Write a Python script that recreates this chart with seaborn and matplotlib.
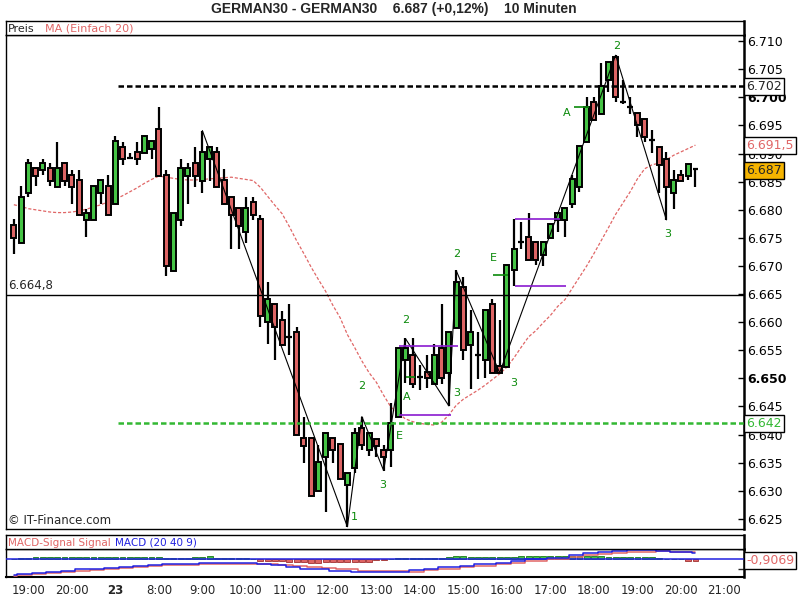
import matplotlib
matplotlib.use('Agg')
import matplotlib.pyplot as plt
import matplotlib.transforms as mtrans
import numpy as np
import seaborn as sns

sns.set_style('white')
plt.rcParams['font.family'] = ['DejaVu Sans']

# 10 minute bars, index 0 = 19:00 of the evening before
bar_idx = list(range(-2, 93))
opens = [6677.3, 6674.1, 6683.0, 6687.4, 6687.1, 6687.4, 6684.0, 6688.3, 6686.2, 6685.3,
         6678.1, 6678.1, 6683.0, 6684.2, 6681.0, 6691.2, 6689.3, 6690.3, 6690.1, 6690.9,
         6694.3, 6686.2, 6669.1, 6678.1, 6686.0, 6688.3, 6685.1, 6689.1, 6690.3, 6685.3,
         6682.3, 6680.3, 6676.1, 6681.3, 6678.3, 6660.1, 6663.2, 6660.3, 6657.3, 6658.3,
         6639.4, 6639.4, 6630.0, 6636.1, 6639.4, 6638.3, 6631.0, 6634.0, 6641.1, 6637.2,
         6639.2, 6637.3, 6637.2, 6643.1, 6653.2, 6654.2, 6650.3, 6651.2, 6649.0, 6655.4,
         6650.9, 6658.9, 6666.3, 6655.9, 6654.2, 6653.2, 6663.2, 6652.2, 6652.1, 6669.2,
         6674.3, 6675.2, 6674.3, 6671.9, 6674.9, 6678.2, 6678.1, 6681.1, 6684.1, 6692.1,
         6699.2, 6697.0, 6703.1, 6707.2, 6699.2, 6698.3, 6697.3, 6696.1, 6692.4, 6691.2,
         6689.1, 6682.9, 6686.2, 6686.0, 6687.2]
highs = [6678.3, 6684.2, 6689.1, 6687.4, 6689.1, 6688.3, 6692.1, 6688.3, 6687.1, 6687.1,
         6680.1, 6684.2, 6685.3, 6686.2, 6693.1, 6692.1, 6690.1, 6692.1, 6693.2, 6692.2,
         6698.3, 6687.1, 6679.4, 6689.1, 6688.3, 6691.1, 6694.1, 6691.3, 6691.1, 6687.2,
         6682.3, 6680.3, 6682.2, 6682.2, 6679.1, 6667.1, 6663.2, 6662.0, 6663.2, 6659.1,
         6643.1, 6639.4, 6638.2, 6640.2, 6639.4, 6638.3, 6633.2, 6641.1, 6643.2, 6640.2,
         6639.2, 6638.2, 6645.7, 6655.4, 6657.1, 6657.1, 6652.4, 6654.2, 6656.1, 6663.2,
         6658.3, 6669.2, 6668.1, 6662.2, 6658.3, 6662.2, 6664.2, 6660.4, 6670.2, 6678.3,
         6677.9, 6679.4, 6674.3, 6674.3, 6677.5, 6679.4, 6680.3, 6686.2, 6691.3, 6700.1,
         6700.1, 6706.1, 6706.3, 6707.5, 6703.1, 6700.1, 6697.3, 6696.1, 6694.2, 6691.2,
         6690.3, 6687.1, 6687.1, 6688.1, 6687.4]
lows = [6672.1, 6674.1, 6682.2, 6684.2, 6686.2, 6684.2, 6684.0, 6684.2, 6681.1, 6679.1,
        6675.1, 6678.1, 6681.1, 6679.1, 6681.0, 6688.0, 6689.1, 6688.0, 6690.1, 6689.1,
        6686.0, 6668.2, 6669.1, 6677.1, 6681.1, 6684.0, 6683.0, 6685.1, 6684.0, 6681.0,
        6673.1, 6673.1, 6674.1, 6678.1, 6659.1, 6656.1, 6653.3, 6655.9, 6654.2, 6640.0,
        6635.0, 6629.1, 6630.0, 6626.3, 6635.0, 6632.1, 6623.6, 6633.1, 6637.3, 6636.2,
        6636.1, 6633.6, 6634.2, 6643.1, 6649.1, 6648.2, 6648.0, 6648.2, 6649.0, 6649.0,
        6645.1, 6658.9, 6653.3, 6648.1, 6649.9, 6650.0, 6651.0, 6651.0, 6652.1, 6666.5,
        6673.1, 6671.1, 6670.2, 6670.0, 6674.9, 6676.1, 6675.1, 6680.3, 6683.2, 6692.1,
        6696.0, 6697.0, 6701.0, 6699.2, 6698.9, 6697.1, 6693.0, 6692.1, 6690.1, 6682.9,
        6678.2, 6680.1, 6685.2, 6685.3, 6684.1]
closes = [6675.0, 6682.3, 6688.3, 6686.0, 6688.3, 6685.1, 6687.4, 6685.1, 6684.0, 6679.1,
          6679.4, 6684.2, 6685.3, 6679.1, 6692.3, 6689.0, 6689.3, 6689.0, 6693.2, 6692.2,
          6686.0, 6670.0, 6679.4, 6687.4, 6687.4, 6686.0, 6690.3, 6691.1, 6684.0, 6681.0,
          6679.1, 6677.1, 6680.3, 6679.1, 6661.1, 6664.1, 6659.1, 6655.9, 6657.3, 6640.0,
          6638.0, 6629.1, 6635.2, 6640.2, 6637.2, 6632.1, 6633.2, 6640.2, 6638.2, 6640.2,
          6638.0, 6636.1, 6642.1, 6655.4, 6655.4, 6649.0, 6650.3, 6650.0, 6654.2, 6650.0,
          6658.3, 6667.2, 6655.1, 6658.3, 6654.2, 6662.2, 6651.0, 6651.0, 6670.2, 6673.1,
          6674.3, 6671.1, 6671.1, 6674.3, 6677.4, 6679.4, 6680.3, 6685.4, 6691.3, 6698.3,
          6696.0, 6702.0, 6706.3, 6700.1, 6699.2, 6698.3, 6695.1, 6693.0, 6692.4, 6688.0,
          6684.1, 6685.3, 6685.2, 6688.1, 6687.2]
ma20 = [6680.9, 6680.6, 6680.2, 6680.0, 6679.8, 6679.6, 6679.5, 6679.5, 6679.6, 6679.8,
        6680.1, 6680.5, 6680.9, 6681.4, 6681.9, 6682.5, 6683.2, 6683.9, 6684.7, 6685.4,
        6686.0, 6685.8, 6685.6, 6685.4, 6685.3, 6685.3, 6685.4, 6685.5, 6685.6, 6685.7,
        6685.8, 6685.6, 6685.4, 6685.2, 6684.0, 6682.4, 6680.8, 6679.3, 6677.0, 6674.5,
        6672.2, 6669.8, 6667.6, 6665.5, 6663.0, 6660.8, 6657.8, 6655.5, 6653.1, 6651.0,
        6649.3, 6647.0, 6644.9, 6643.8, 6642.8, 6642.3, 6642.0, 6641.8, 6641.7, 6642.2,
        6643.5, 6645.2, 6646.3, 6647.1, 6647.9, 6648.8, 6649.8, 6650.8, 6652.0, 6653.7,
        6655.6, 6657.4, 6658.5, 6659.9, 6661.2, 6662.8, 6664.0, 6666.0, 6668.0, 6670.0,
        6672.2, 6674.5, 6676.8, 6679.2, 6681.2, 6683.2, 6685.5, 6687.3, 6688.0, 6688.3,
        6688.9, 6689.7, 6690.3, 6690.9, 6691.5]

# MACD panel (20 40 9)
macd = [-10.9, -10.2, -10.2, -9.3, -9.3, -8.6, -8.6, -7.9, -7.9, -7.0,
        -7.0, -6.4, -6.4, -5.8, -5.8, -5.2, -5.2, -4.5, -4.5, -4.0,
        -4.0, -3.5, -3.5, -3.3, -3.1, -3.1, -2.8, -2.8, -2.8, -2.8,
        -2.8, -2.8, -2.8, -2.8, -3.5, -3.5, -4.2, -4.2, -5.6, -5.6,
        -6.5, -6.5, -7.0, -7.0, -7.9, -7.9, -7.9, -8.6, -8.6, -8.6,
        -8.6, -8.6, -8.6, -8.6, -8.6, -7.5, -7.5, -6.5, -6.5, -5.6,
        -5.6, -5.6, -4.7, -4.7, -3.5, -3.5, -3.5, -2.4, -2.4, -1.4,
        -1.4, 0.2, 0.2, 0.2, 1.1, 1.1, 1.1, 2.8, 2.8, 4.2,
        4.2, 4.9, 4.9, 5.8, 5.8, 6.5, 6.5, 6.5, 6.5, 6.0,
        6.0, 5.1, 5.1, 5.1, 4.2]
signal = [-11.6, -10.9, -10.9, -10.2, -10.2, -9.5, -9.5, -8.8, -8.8, -8.1,
          -8.1, -7.5, -7.5, -6.8, -6.8, -6.1, -6.1, -5.4, -5.4, -4.7,
          -4.7, -4.2, -4.2, -3.8, -3.8, -3.8, -3.3, -3.3, -3.3, -3.1,
          -3.1, -3.1, -3.1, -3.1, -3.1, -3.1, -3.1, -3.8, -3.8, -4.7,
          -4.7, -5.4, -5.4, -6.1, -6.1, -7.0, -7.0, -7.0, -8.0, -8.0,
          -8.0, -8.0, -8.0, -8.0, -8.0, -8.6, -8.6, -7.5, -7.5, -6.5,
          -6.5, -6.5, -5.6, -5.6, -4.7, -4.7, -4.7, -3.5, -3.5, -2.4,
          -2.4, -0.9, -0.9, -0.9, 0.2, 0.2, 0.2, 1.4, 1.4, 2.8,
          2.8, 3.5, 3.5, 4.2, 4.2, 5.1, 5.1, 5.1, 5.1, 5.6,
          5.6, 5.4, 5.4, 5.4, 4.9]
hist = [0, 0.7, 0.8, 1.4, 1.4, 1.4, 1.4, 1.4, 1.4, 1.4,
        1.4, 1.4, 1.4, 1.4, 1.4, 1.4, 1.4, 1.4, 1.4, 1.4,
        1.4, 1.0, 1.0, 1.0, 1.0, 1.4, 1.4, 2.0, 1.0, 1.0,
        1.0, 1.0, 1.0, 0, -0.8, -1.4, -1.4, -1.4, -1.6, -1.6,
        -1.6, -2.2, -2.2, -1.6, -1.6, -1.6, -1.6, -1.6, -1.6, -1.6,
        -0.5, -0.3, 0, 0.8, 1.0, 1.0, 1.0, 1.0, 1.0, 1.0,
        1.4, 2.2, 2.2, 1.4, 1.4, 1.4, 1.4, 1.4, 1.4, 1.4,
        2.2, 2.2, 2.2, 2.2, 2.2, 2.0, 2.0, 2.2, 2.2, 2.2,
        2.2, 2.2, 1.4, 1.4, 1.4, 1.4, 1.4, 1.4, 1.4, 1.0,
        0, 0, 0, -0.9, -0.9]
macd_last = -0.9069

# wave count (zigzag) and its labels
zz_idx = [24, 44, 46, 49, 52, 58, 59, 65, 81, 88]
zz_price = [6694.1, 6623.6, 6643.2, 6633.6, 6657.1, 6645.1, 6669.2, 6651.0, 6707.5, 6678.2]
wave_labels = ['2', '1', '3', 'E', 'A', '2', '3', '2', 'E', '3', 'A', '2', '3']
wave_idx = [46.0, 44.9, 48.9, 51.2, 52.2, 52.1, 59.1, 59.1, 64.1, 67.0, 74.2, 81.2, 88.2]
wave_price = [6648.7, 6625.4, 6631.1, 6639.8, 6646.6, 6660.4, 6647.4, 6672.1, 6671.5, 6649.1,
              6697.3, 6709.1, 6675.7]

# horizontal levels
level_black = 6702
level_green = 6642
level_line = 6664.8
level_start = 12.3
purple_levels = [6655.7, 6643.5, 6666.4, 6678.3]
purple_from = [51.1, 51.1, 67.1, 67.1]
purple_to = [59.2, 58.3, 74.2, 73.3]
green_marks = [6650.3, 6668.4, 6698.2]
green_from = [52.1, 64.1, 75.2]
green_to = [53.3, 66.2, 77.3]

last_price = 6687
tick_pos = [0, 6, 12, 18, 24, 30, 36, 42, 48, 54, 60, 66, 72, 78, 84, 90, 96]
tick_lab = ['19:00', '20:00', '23', '8:00', '9:00', '10:00', '11:00', '12:00', '13:00',
            '14:00', '15:00', '16:00', '17:00', '18:00', '19:00', '20:00', '21:00']

UP = '#45c445'
DOWN = '#dd6464'
MA_RED = '#e06666'
BLUE = '#2020e0'
W, H = 800, 600


def fx(x):
    return x / W


def fy(y):
    return 1 - y / H


fig = plt.figure(figsize=(8, 6), dpi=100)
ax = fig.add_axes([fx(6), fy(529), fx(738), 494 / H])
ax_h = fig.add_axes([fx(6), fy(35), fx(738), 14 / H])
ax_m = fig.add_axes([fx(6), fy(577.3), fx(738), 28 / H])
ax_mh = fig.add_axes([fx(6), fy(549.3), fx(738), 14 / H])

for a in (ax_h, ax_mh):
    a.set_xticks([])
    a.set_yticks([])
    for s in a.spines.values():
        s.set_color('black')
        s.set_linewidth(1)
    a.spines['right'].set_linewidth(1.8)

# --- candles ---
o = np.array(opens)
c = np.array(closes)
idx = np.array(bar_idx)
doji = np.abs(c - o) < 0.3
colors = np.where(c >= o, UP, DOWN)
ax.vlines(idx, lows, highs, color='black', lw=1.6, zorder=3)
body_lo = np.minimum(o, c)
body_h = np.abs(c - o)
ax.bar(idx[~doji], body_h[~doji], bottom=body_lo[~doji], width=0.7, color=colors[~doji],
       edgecolor='black', linewidth=1.4, zorder=4)
ax.hlines(c[doji], idx[doji] - 0.4, idx[doji] + 0.4, color='black', lw=1.6, zorder=4)

# MA 20
sns.lineplot(x=bar_idx, y=ma20, ax=ax, color=MA_RED, lw=0.9, linestyle=(0, (2.5, 1.5)),
             legend=False, zorder=2)

# zigzag
sns.lineplot(x=zz_idx, y=zz_price, ax=ax, sort=False, color='black', lw=0.8,
             legend=False, zorder=5)
for lab, xi, yi in zip(wave_labels, wave_idx, wave_price):
    ax.text(xi, yi, lab, color='#0a8a0a', fontsize=8, ha='center', va='center', zorder=6)

# levels
ax.hlines(level_black, level_start, 99, color='black', lw=1.8, linestyles=(0, (2.2, 1.2)), zorder=5)
ax.hlines(level_green, level_start, 99, color='#33b833', lw=1.8, linestyles=(0, (2.2, 1.2)), zorder=5)
ax.axhline(level_line, color='black', lw=1, zorder=5)
ax.hlines(purple_levels, purple_from, purple_to, color='#8a1ad0', lw=1.2, zorder=5)
ax.hlines(green_marks, green_from, green_to, color='#0a8a0a', lw=1.2, zorder=5)

ax.set_xlim(-3.08, 98.7)
ax.set_ylim(6623.2, 6711.1)
ax.set_xticks([])
yt = list(range(6625, 6711, 5))
ax.yaxis.tick_right()
ax.set_yticks(yt)
ax.set_yticklabels(['6.%03d' % (v - 6000) for v in yt])
ax.tick_params(axis='y', direction='in', length=4, width=1, pad=2, labelsize=9, colors='black')
for t, v in zip(ax.get_yticklabels(), yt):
    if v % 50 == 0:
        t.set_fontweight('bold')
for s in ax.spines.values():
    s.set_color('black')
    s.set_linewidth(1)
ax.spines['right'].set_linewidth(1.8)

rt = mtrans.blended_transform_factory(ax.transAxes, ax.transData)
ax.text(0.003, level_line + 0.5, '6.664,8', transform=rt, fontsize=8.5, ha='left', va='bottom')
ax.text(0.003, 0.005, '\u00a9 IT-Finance.com', transform=ax.transAxes, fontsize=8.5,
        ha='left', va='bottom')

# boxed values on the price scale
box = dict(boxstyle='square,pad=0.15', fc='white', ec='black', lw=1)
ax.text(1.003, level_black, '6.702', transform=rt, fontsize=9, va='center', ha='left',
        bbox=box, zorder=10, clip_on=False)
ax.text(1.003, ma20[-1], '6.691,5', transform=rt, fontsize=9, va='center', ha='left',
        color=MA_RED, bbox=box, zorder=10, clip_on=False)
ax.text(1.003, last_price, '6.687', transform=rt, fontsize=9, va='center', ha='left',
        bbox=dict(boxstyle='square,pad=0.15', fc='#f5b400', ec='black', lw=1), zorder=11,
        clip_on=False)
ax.text(1.003, level_green, '6.642', transform=rt, fontsize=9, va='center', ha='left',
        color='#33b833', bbox=box, zorder=10, clip_on=False)

# header of price panel
t1 = ax_h.text(0.003, 0.45, 'Preis', fontsize=8, va='center', ha='left', transform=ax_h.transAxes)
ax_h.annotate('MA (Einfach 20)', xy=(1, 0.5), xycoords=t1, xytext=(7, 0),
              textcoords='offset points', fontsize=8, va='center', ha='left', color=MA_RED)

# --- MACD ---
ax_m.bar(bar_idx, hist, width=0.8, color=[UP if v >= 0 else DOWN for v in hist],
         edgecolor=['#1a7a1a' if v >= 0 else '#a03030' for v in hist], linewidth=0.6, zorder=2)
ax_m.axhline(0, color=BLUE, lw=1.1, zorder=3)
sns.lineplot(x=bar_idx, y=signal, ax=ax_m, color=MA_RED, lw=1.1, drawstyle='steps-mid',
             legend=False, zorder=4)
sns.lineplot(x=bar_idx, y=macd, ax=ax_m, color=BLUE, lw=1.1, drawstyle='steps-mid',
             legend=False, zorder=5)
ax_m.set_xlim(-3.08, 98.7)
ax_m.set_ylim(-12.5, 7.0)
ax_m.yaxis.tick_right()
ax_m.set_yticks([-7.0, 7.0])
ax_m.set_yticklabels([])
ax_m.tick_params(axis='y', direction='in', length=4, width=1)
ax_m.set_xticks(tick_pos)
ax_m.set_xticklabels(tick_lab)
ax_m.tick_params(axis='x', direction='out', length=3, width=1, pad=2, labelsize=8.5)
for t in ax_m.get_xticklabels():
    if t.get_text() == '23':
        t.set_fontweight('bold')
for s in ax_m.spines.values():
    s.set_color('black')
    s.set_linewidth(1)
ax_m.spines['right'].set_linewidth(1.8)
ax_m.spines['bottom'].set_linewidth(1.5)
mt = mtrans.blended_transform_factory(ax_m.transAxes, ax_m.transData)
ax_m.text(1.003, macd_last, '-0,9069', transform=mt, fontsize=9, va='center', ha='left',
          color=MA_RED, bbox=box, zorder=10, clip_on=False)

t2 = ax_mh.text(0.003, 0.45, 'MACD-Signal Signal', fontsize=7.5, va='center', ha='left',
                color=MA_RED, transform=ax_mh.transAxes)
ax_mh.annotate('MACD (20 40 9)', xy=(1, 0.5), xycoords=t2, xytext=(3, 0),
               textcoords='offset points', fontsize=7.5, va='center', ha='left', color=BLUE)

fig.text(fx(394), fy(9), 'GERMAN30 - GERMAN30    6.687 (+0,12%)    10 Minuten',
         fontsize=10, fontweight='bold', ha='center', va='center',
         family=['Liberation Sans', 'DejaVu Sans'])

fig.savefig('out.png', dpi=100, facecolor='white')
